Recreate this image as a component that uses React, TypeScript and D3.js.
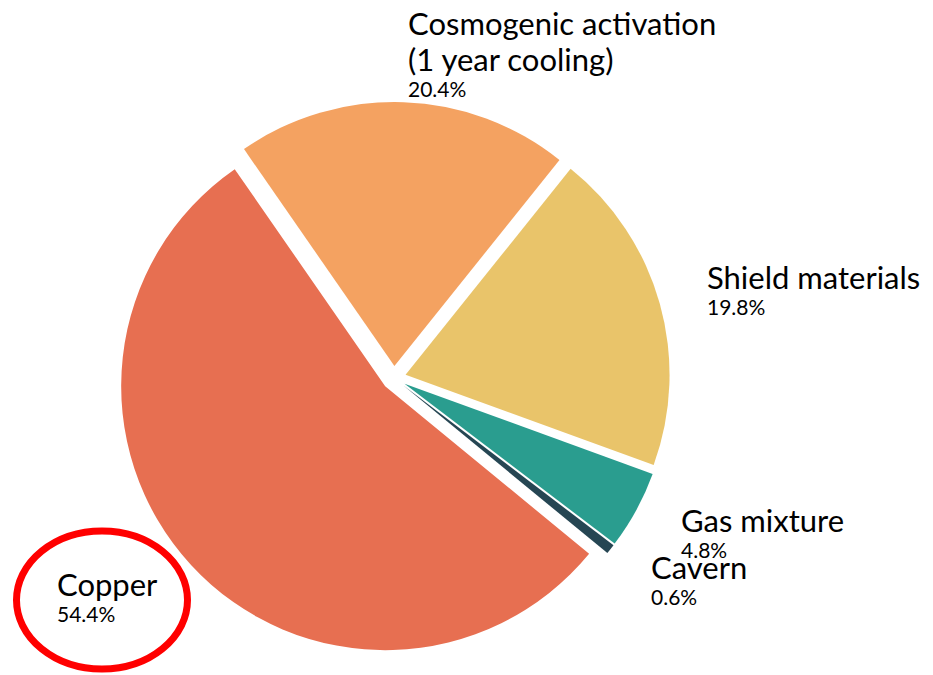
import React from "react";
import * as d3 from "d3";

// Slice data, listed clockwise starting at the Shield/Cosmogenic boundary
const CATEGORIES = [
  "Shield materials",
  "Gas mixture",
  "Cavern",
  "Copper",
  "Cosmogenic activation",
];
const SUBTITLES = ["", "", "", "", "(1 year cooling)"];
const SHARES = [19.8, 4.8, 0.6, 54.4, 20.4];
const COLORS = ["#E9C46A", "#2A9D8F", "#264653", "#E76F51", "#F4A261"];

const WIDTH = 933;
const HEIGHT = 675;
const CX = 394;
const CY = 378;
const RADIUS = 264;
const EXPLODE = 12;
const START_DEG = 38.7;

// Text block anchors (left edge, first baseline) per slice
const LABEL_POS: { x: number; y: number }[] = [
  { x: 707, y: 289 },
  { x: 681, y: 532 },
  { x: 651, y: 579 },
  { x: 57, y: 596 },
  { x: 408, y: 35 },
];

const FONT = "Lato, 'Noto Sans', sans-serif";

export default function App() {
  const pie = d3
    .pie<number>()
    .sort(null)
    .value((d) => d)
    .startAngle((START_DEG * Math.PI) / 180)
    .endAngle((START_DEG * Math.PI) / 180 + 2 * Math.PI);
  const arcs = pie(SHARES);
  const arc = d3.arc<d3.PieArcDatum<number>>().innerRadius(0).outerRadius(RADIUS);

  return (
    <div style={{ position: "absolute", left: 0, top: 0 }}>
      <svg width={WIDTH} height={HEIGHT} style={{ display: "block", background: "#fff" }}>
        <g transform={`translate(${CX},${CY})`}>
          {arcs.map((a, i) => {
            const mid = (a.startAngle + a.endAngle) / 2;
            const dx = EXPLODE * Math.sin(mid);
            const dy = -EXPLODE * Math.cos(mid);
            return (
              <path
                key={CATEGORIES[i]}
                d={arc(a) || ""}
                fill={COLORS[i]}
                transform={`translate(${dx},${dy})`}
              />
            );
          })}
        </g>
        {arcs.map((a, i) => {
          const p = LABEL_POS[i];
          const hasSub = SUBTITLES[i] !== "";
          const pctY = p.y + (hasSub ? 36 : 0) + 26;
          return (
            <g key={"lbl" + i} fontFamily={FONT} fill="#000">
              <text x={p.x} y={p.y} fontSize={31}>
                {CATEGORIES[i]}
              </text>
              {hasSub && (
                <text x={p.x} y={p.y + 36} fontSize={31}>
                  {SUBTITLES[i]}
                </text>
              )}
              <text x={p.x} y={pctY} fontSize={21}>
                {`${a.data.toFixed(1)}%`}
              </text>
            </g>
          );
        })}
        {/* highlight ring around the Copper label */}
        <ellipse cx={102} cy={600} rx={85.5} ry={69} fill="none" stroke="#FF0000" strokeWidth={7} />
      </svg>
    </div>
  );
}
